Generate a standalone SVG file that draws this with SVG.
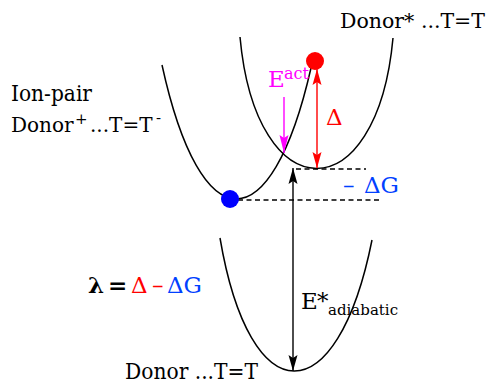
<svg xmlns="http://www.w3.org/2000/svg" width="489" height="384" viewBox="0 0 489 384">
<style>
.curve{fill:none;stroke:#000;stroke-width:1.5}
.dash{fill:none;stroke:#000;stroke-width:1.3;stroke-dasharray:5 3.5}
.arr{fill:none;stroke-width:1.4}
</style>
<defs>
<marker id="ahK" markerUnits="userSpaceOnUse" markerWidth="17" markerHeight="10" refX="16" refY="5" orient="auto-start-reverse"><path d="M0,0.5 L16,5 L0,9.5 L3,5 z" fill="#000"/></marker>
<marker id="ahR" markerUnits="userSpaceOnUse" markerWidth="17" markerHeight="10" refX="16" refY="5" orient="auto-start-reverse"><path d="M0,0.5 L16,5 L0,9.5 L3,5 z" fill="#ff0000"/></marker>
<marker id="ahM" markerUnits="userSpaceOnUse" markerWidth="19" markerHeight="10" refX="18" refY="5" orient="auto-start-reverse"><path d="M0,0.5 L18,5 L0,9.5 L3,5 z" fill="#ff00ff"/></marker>
</defs>
<g id="curves">
<path id="ionpair-curve" class="curve" d="M162,65 C201,243 271,243 311,68"/>
<path id="excited-curve" class="curve" d="M240,37 C256,212 377,212 393,38"/>
<path id="ground-curve" class="curve" d="M220,238 C250,415 337,415 372,240"/>
</g>
<g id="connectors">
<line class="dash" x1="296" y1="169" x2="366" y2="169"/>
<line class="dash" x1="238" y1="200" x2="382" y2="200"/>
<line class="arr" stroke="#000" x1="293" y1="168" x2="293" y2="371" marker-start="url(#ahK)" marker-end="url(#ahK)"/>
<line class="arr" stroke="#ff0000" x1="317" y1="69" x2="317" y2="168" marker-start="url(#ahR)" marker-end="url(#ahR)"/>
<line class="arr" stroke="#ff00ff" x1="284" y1="97" x2="284" y2="153" marker-end="url(#ahM)"/>
</g>
<g id="dots">
<circle id="red-dot" cx="315" cy="61" r="9" fill="#ff0000"/>
<circle id="blue-dot" cx="230" cy="199" r="9" fill="#0000ff"/>
</g>
<g id="labels" font-family="'DejaVu Serif', serif" font-size="22">
<text x="340" y="28" font-size="20.5">Donor* ...T=T</text>
<text x="11" y="101" textLength="81" lengthAdjust="spacingAndGlyphs">Ion-pair</text>
<text x="11" y="132" font-size="20">Donor<tspan x="75" dy="-8" font-size="15">+</tspan><tspan x="90" dy="8">...T=T</tspan><tspan x="156" dy="-9" font-size="15">-</tspan></text>
<text x="268" y="87" fill="#ff00ff" font-size="23">E<tspan x="284" dy="-8" font-size="16">act</tspan></text>
<text x="326" y="125" fill="#ff0000" font-size="23">Δ</text>
<text x="343" y="193" fill="#0040ff" font-size="23">–<tspan x="364">ΔG</tspan></text>
<text x="88" y="293" font-size="23"><tspan font-weight="bold">λ</tspan><tspan x="108" font-weight="bold">=</tspan><tspan x="131" fill="#ff0000">Δ</tspan><tspan x="152" fill="#ff0000">–</tspan><tspan x="167" fill="#0040ff">ΔG</tspan></text>
<text x="301" y="309" font-size="23">E<tspan x="317">*</tspan><tspan x="328" dy="6" font-size="15">adiabatic</tspan></text>
<text x="125" y="379" textLength="133" lengthAdjust="spacingAndGlyphs">Donor ...T=T</text>
</g>
</svg>
